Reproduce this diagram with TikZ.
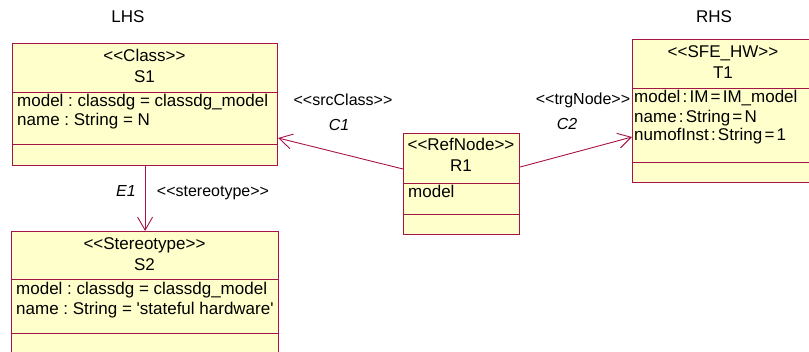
\documentclass[tikz,border=0pt]{standalone}
\usepackage{fontspec}
\setmainfont{Liberation Sans}
\frenchspacing
\usetikzlibrary{arrows.meta,calc}
\definecolor{umlborder}{RGB}{165,20,70}
\definecolor{umlfill}{RGB}{255,255,204}
\newcommand\mytightspace{\spaceskip 2.2pt\relax}
\tikzset{
  classbox/.style={draw=umlborder, fill=umlfill, line width=1.2pt, rectangle, anchor=north west, inner sep=0pt},
  sepline/.style={draw=umlborder, line width=1pt},
  txt/.style={inner sep=0pt, anchor=mid, font=\fontsize{17}{19}\selectfont},
  attr/.style={inner sep=0pt, anchor=mid west, font=\fontsize{17}{19}\selectfont},
  tattr/.style={inner sep=0pt, anchor=mid west, font={\fontsize{17}{19}\selectfont\mytightspace}},
  lbl/.style={inner sep=0pt, anchor=mid, font=\fontsize{16}{18}\selectfont},
  ilbl/.style={inner sep=0pt, anchor=mid, font=\fontsize{16}{18}\selectfont\itshape},
  conn/.style={draw=umlborder, line width=0.9pt, -{Straight Barb[length=13pt,width=15pt,line width=0.9pt]}}
}
\begin{document}
\begin{tikzpicture}[x=1pt,y=-1pt]
\useasboundingbox (0,0) rectangle (809,351);
\clip (0,0) rectangle (809,351);
% boxes
\node[classbox, minimum width=265pt, minimum height=122pt] (S1) at (12,43) {};
\node[classbox, minimum width=267pt, minimum height=160pt] (S2) at (11,231) {};
\node[classbox, minimum width=116pt, minimum height=101pt] (R1) at (403,133) {};
\node[classbox, minimum width=182pt, minimum height=143pt] (T1) at (632,39) {};
% separators
\draw[sepline] (S1.west |- 0,92) -- (S1.east |- 0,92);
\draw[sepline] (S1.west |- 0,144) -- (S1.east |- 0,144);
\draw[sepline] (S2.west |- 0,279) -- (S2.east |- 0,279);
\draw[sepline] (S2.west |- 0,333) -- (S2.east |- 0,333);
\draw[sepline] (R1.west |- 0,183) -- (R1.east |- 0,183);
\draw[sepline] (R1.west |- 0,214) -- (R1.east |- 0,214);
\draw[sepline] (T1.west |- 0,88) -- (T1.east |- 0,88);
\draw[sepline] (T1.west |- 0,162) -- (T1.east |- 0,162);
% headings
\node[txt] (lhs) at (128,20) {LHS};
\node[txt] (rhs) at (714,20) {RHS};
% S1
\node[txt] (s1st) at (144.5,59) {<{}<Class>{}>};
\node[txt] (s1nm) at (144.5,80) {S1};
\node[attr] (s1a) at (17,104) {model : classdg = classdg\_model};
\node[attr] (s1b) at (17,123) {name : String = N};
% S2
\node[txt] (s2st) at (144.5,247) {<{}<Stereotype>{}>};
\node[txt] (s2nm) at (144.5,268) {S2};
\node[attr] (s2a) at (16,292) {model : classdg = classdg\_model};
\node[attr] (s2b) at (16,312) {name : String = \textquotesingle stateful hardware\textquotesingle};
% R1
\node[txt] (r1st) at (461,148) {<{}<RefNode>{}>};
\node[txt] (r1nm) at (461,169) {R1};
\node[attr] (r1a) at (408,195) {model};
% T1
\node[txt] (t1st) at (723,55) {<{}<SFE\_HW>{}>};
\node[txt] (t1nm) at (723,76) {T1};
\node[tattr] (t1a) at (634,100) {model : IM = IM\_model};
\node[tattr] (t1b) at (634,120) {name : String = N};
\node[tattr] (t1c) at (634,138) {numofInst : String = 1};
% connectors
\draw[conn] (S1.south) -- (S2.north);
\draw[conn] (R1.west |- 0,169) -- (S1.east |- 0,138);
\draw[conn] (R1.east |- 0,167) -- (T1.west |- 0,137);
% connector labels
\node[ilbl] (e1) at (126,194) {E1};
\node[lbl] (e1s) at (213,194) {<{}<stereotype>{}>};
\node[lbl] (c1s) at (343,103) {<{}<srcClass>{}>};
\node[ilbl] (c1) at (339,128) {C1};
\node[lbl] (c2s) at (583,102) {<{}<trgNode>{}>};
\node[ilbl] (c2) at (567,127) {C2};
\end{tikzpicture}
\end{document}
